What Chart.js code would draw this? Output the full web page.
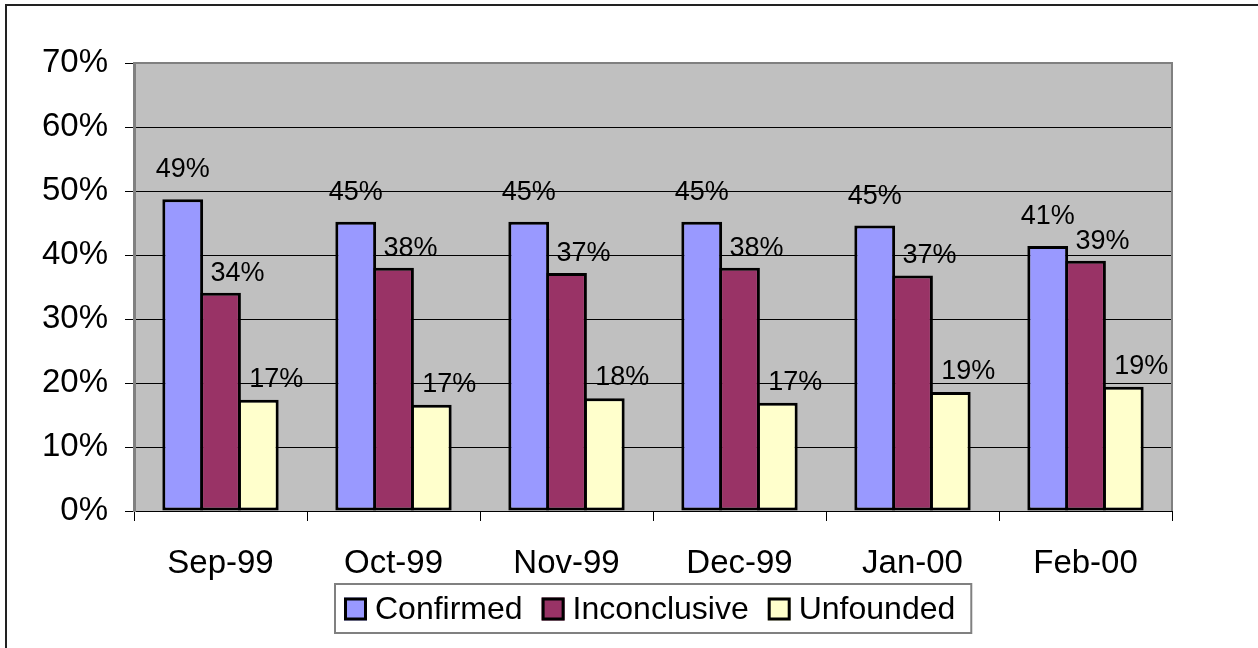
<!DOCTYPE html>
<html>
<head>
<meta charset="utf-8">
<script src="https://cdn.jsdelivr.net/npm/chart.js@4.4.0/dist/chart.umd.min.js"></script>
<style>
  html, body { margin: 0; padding: 0; background: #fff; }
</style>
</head>
<body>
<canvas id="chart" width="1258" height="648"></canvas>
<script>
// values (percent)
const months = ['Sep-99', 'Oct-99', 'Nov-99', 'Dec-99', 'Jan-00', 'Feb-00'];
const confirmed = [48.7, 45.2, 45.2, 45.2, 44.6, 41.4];
const inconclusive = [34.1, 38.0, 37.2, 38.0, 36.8, 39.1];
const unfounded = [17.4, 16.6, 17.6, 16.9, 18.6, 19.4];
const seriesNames = ['Confirmed', 'Inconclusive', 'Unfounded'];
const seriesColors = ['#9999FF', '#993366', '#FFFFCC'];

const FONT = '"Liberation Sans", Arial, sans-serif';
// value label offset from bar top, per series [dx, dy]
const labelShift = [[0, 22], [17, 12], [18, 13]];

const plotBack = {
    id: 'plotBack',
    beforeDraw(chart) {
        const { ctx, chartArea: a } = chart;
        ctx.save();
        ctx.fillStyle = '#fff';
        ctx.fillRect(0, 0, chart.width, chart.height);
        ctx.fillStyle = '#C0C0C0';
        ctx.fillRect(a.left, a.top, a.right - a.left, a.bottom - a.top);
        // outer frame, only top and left are inside the picture
        ctx.strokeStyle = '#222';
        ctx.lineWidth = 2;
        ctx.beginPath();
        ctx.moveTo(6, 700);
        ctx.lineTo(6, 5);
        ctx.lineTo(1300, 5);
        ctx.stroke();
        ctx.restore();
    },
    beforeDatasetsDraw(chart) {
        const { ctx, chartArea: a } = chart;
        ctx.save();
        ctx.strokeStyle = '#808080';
        ctx.lineWidth = 2;
        ctx.beginPath();
        ctx.moveTo(a.left, a.top);
        ctx.lineTo(a.right, a.top);
        ctx.lineTo(a.right, a.bottom);
        ctx.stroke();
        ctx.restore();
    }
};

const valueLabels = {
    id: 'valueLabels',
    afterDatasetsDraw(chart) {
        const ctx = chart.ctx;
        ctx.save();
        ctx.font = '27px ' + FONT;
        ctx.fillStyle = '#000';
        ctx.textAlign = 'center';
        ctx.textBaseline = 'alphabetic';
        chart.data.datasets.forEach(function(ds, i) {
            chart.getDatasetMeta(i).data.forEach(function(bar, j) {
                const txt = Math.round(ds.data[j]) + '%';
                ctx.fillText(txt, bar.x + labelShift[i][0], bar.y - labelShift[i][1]);
            });
        });
        ctx.restore();
    }
};

const boxLegend = {
    id: 'boxLegend',
    afterDraw(chart) {
        const { ctx, chartArea: a } = chart;
        const sw = 23, gap = 8, sep = 19, padL = 9, padR = 16;
        ctx.save();
        ctx.font = '32px ' + FONT;
        const items = chart.data.datasets.map(function(ds) {
            return { label: ds.label, color: ds.backgroundColor, w: ctx.measureText(ds.label).width };
        });
        let total = sep * (items.length - 1);
        items.forEach(function(it) { total += sw + gap + it.w; });
        const boxW = total + padL + padR;
        const boxL = Math.round((a.left + a.right) / 2 - boxW / 2);
        const boxT = 584, boxB = 633;
        ctx.strokeStyle = '#808080';
        ctx.lineWidth = 2;
        ctx.strokeRect(boxL, boxT, boxW, boxB - boxT);
        let x = boxL + padL;
        const cy = 609;
        ctx.textAlign = 'left';
        ctx.textBaseline = 'middle';
        items.forEach(function(it) {
            ctx.fillStyle = it.color;
            ctx.fillRect(x, cy - sw / 2, sw, sw);
            ctx.strokeStyle = '#000';
            ctx.lineWidth = 3;
            ctx.strokeRect(x + 1.5, cy - sw / 2 + 1.5, sw - 3, sw - 3);
            ctx.fillStyle = '#000';
            ctx.fillText(it.label, x + sw + gap, cy + 1);
            x += sw + gap + it.w + sep;
        });
        ctx.restore();
    }
};

const seriesData = [confirmed, inconclusive, unfounded];

new Chart(document.getElementById('chart'), {
    type: 'bar',
    data: {
        labels: months,
        datasets: seriesData.map(function(values, i) {
            return {
                label: seriesNames[i],
                data: values,
                backgroundColor: seriesColors[i],
                borderColor: '#000',
                borderWidth: 3,
                borderSkipped: false,
                categoryPercentage: 0.655,
                barPercentage: 1.08
            };
        })
    },
    options: {
        responsive: false,
        animation: false,
        devicePixelRatio: 1,
        layout: { padding: { top: 63, right: 86, left: 0, bottom: 0 } },
        scales: {
            x: {
                afterFit: function(scale) { scale.height = 137; },
                grid: { display: true, offset: true, drawOnChartArea: false, color: '#000', tickLength: 10 },
                border: { color: '#000', width: 1 },
                ticks: { color: '#000', padding: 23, font: { family: FONT, size: 33 } }
            },
            y: {
                min: 0,
                max: 70,
                afterFit: function(scale) { scale.width = 134; },
                grid: { color: '#000', lineWidth: 1, tickLength: 9 },
                border: { color: '#808080', width: 3 },
                ticks: {
                    stepSize: 10,
                    color: '#000',
                    padding: 17,
                    font: { family: FONT, size: 33 },
                    callback: function(v) { return v + '%'; }
                }
            }
        },
        plugins: {
            legend: { display: false },
            tooltip: { enabled: false }
        }
    },
    plugins: [plotBack, valueLabels, boxLegend]
});
</script>
</body>
</html>
